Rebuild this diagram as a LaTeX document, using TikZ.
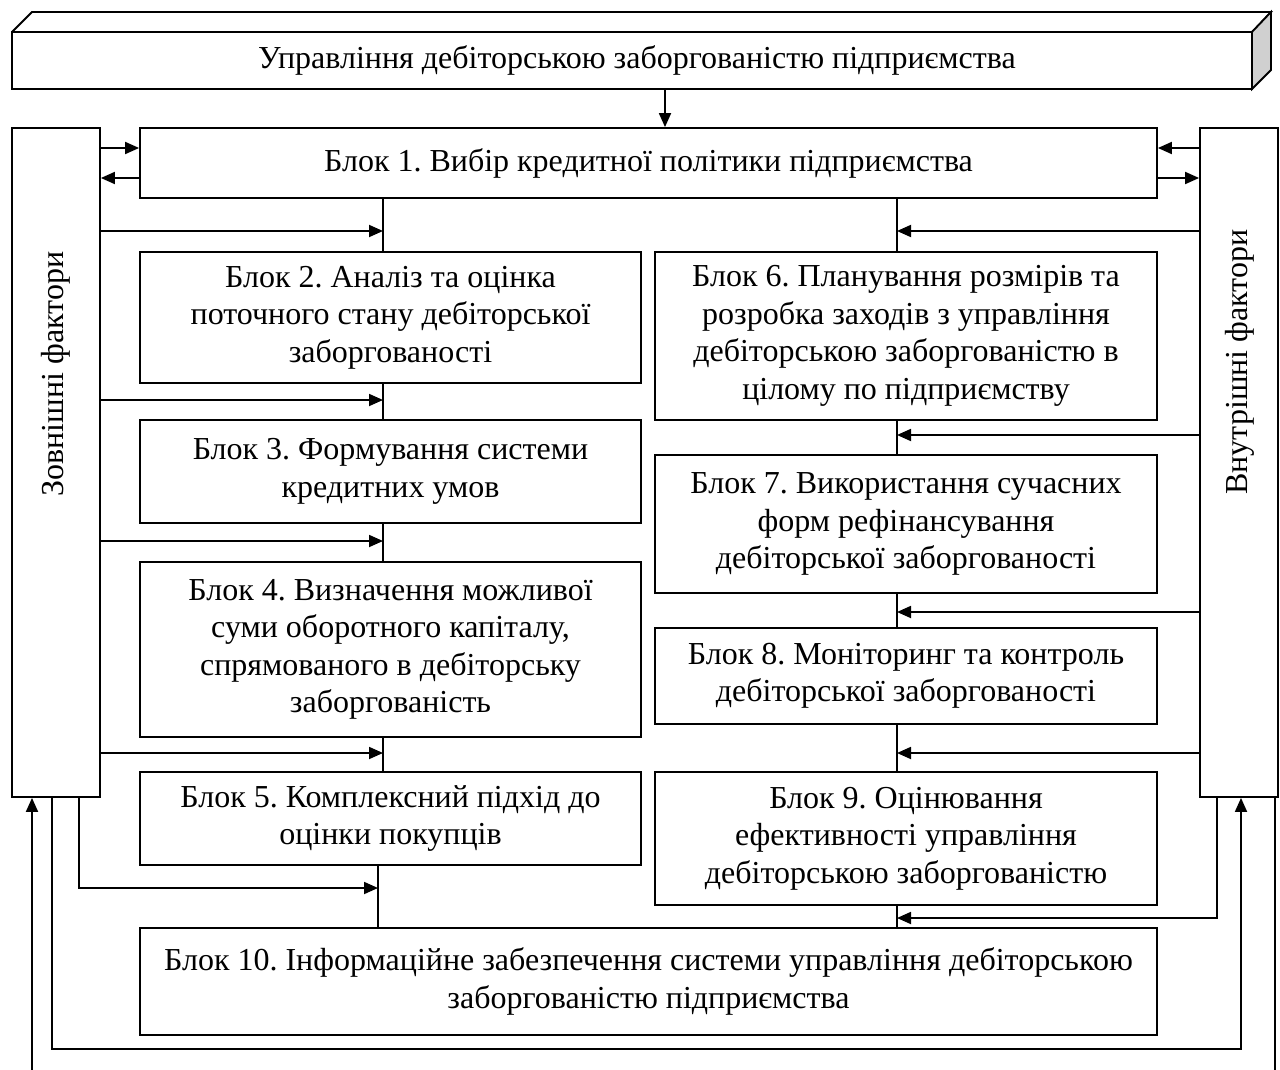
\documentclass[tikz,border=0pt]{standalone}
\usepackage{fontspec}
\setmainfont{Liberation Serif}
\usetikzlibrary{arrows.meta,calc}
\begin{document}
\frenchspacing
\begin{tikzpicture}[x=1pt,y=-1pt, line width=1.8pt,
  box/.style={draw, rectangle, inner sep=0pt, align=center, font=\fontsize{32}{37.5}\selectfont},
  lbl/.style={inner sep=0pt, font=\fontsize{32}{37.5}\selectfont},
  arr/.style={-{Triangle[length=14pt,width=12pt]}}]
\useasboundingbox (0,0) rectangle (1280,1070);
% 3D title bar
\fill[white] (12,32) -- (32,12) -- (1271,12) -- (1252,32) -- cycle;
\draw (12,32) -- (32,12) -- (1271,12) -- (1252,32);
\filldraw[fill={rgb,255:red,208;green,208;blue,208}] (1252,32) -- (1271,12) -- (1271,70) -- (1252,89) -- cycle;
\node[box, minimum width=1240pt, minimum height=57pt] (T) at (632,60.5) {\hspace*{10pt}Управління дебіторською заборгованістю підприємства};
% side boxes
\node[box, minimum width=88pt, minimum height=669pt] (L) at (56,462.5) {};
\node[box, minimum width=78pt, minimum height=669pt] (R) at (1239,462.5) {};
\node[lbl, rotate=90] (Lt) at (56,374) {Зовнішні фактори};
\node[lbl, rotate=90] (Rt) at (1240,362) {Внутрішні фактори};
% blocks
\node[box, minimum width=1017pt, minimum height=70pt] (b1) at (648.5,163) {Блок 1. Вибір кредитної політики підприємства};
\node[box, minimum width=501pt, minimum height=131pt] (b2) at (390.5,317.5) {Блок 2. Аналіз та оцінка\\поточного стану дебіторської\\заборгованості};
\node[box, minimum width=501pt, minimum height=103pt] (b3) at (390.5,471.5) {Блок 3. Формування системи\\кредитних умов};
\node[box, minimum width=501pt, minimum height=175pt] (b4) at (390.5,649.5) {Блок 4. Визначення можливої\\суми оборотного капіталу,\\спрямованого в дебіторську\\заборгованість};
\node[box, minimum width=501pt, minimum height=93pt] (b5) at (390.5,818.5) {Блок 5. Комплексний підхід до\\оцінки покупців};
\node[box, minimum width=502pt, minimum height=168pt] (b6) at (906,336) {Блок 6. Планування розмірів та\\розробка заходів з управління\\дебіторською заборгованістю в\\цілому по підприємству};
\node[box, minimum width=502pt, minimum height=138pt] (b7) at (906,524) {Блок 7. Використання сучасних\\форм рефінансування\\дебіторської заборгованості};
\node[box, minimum width=502pt, minimum height=96pt] (b8) at (906,676) {Блок 8. Моніторинг та контроль\\дебіторської заборгованості};
\node[box, minimum width=502pt, minimum height=133pt] (b9) at (906,838.5) {Блок 9. Оцінювання\\ефективності управління\\дебіторською заборгованістю};
\node[box, minimum width=1017pt, minimum height=107pt] (b10) at (648.5,981.5) {Блок 10. Інформаційне забезпечення системи управління дебіторською\\заборгованістю підприємства};
% top arrow
\draw[arr] (T.south -| 665,0) -- (b1.north -| 665,0);
% block 1 exchange
\draw[arr] (L.east |- 0,148) -- (b1.west |- 0,148);
\draw[arr] (b1.west |- 0,178) -- (L.east |- 0,178);
\draw[arr] (R.west |- 0,148) -- (b1.east |- 0,148);
\draw[arr] (b1.east |- 0,178) -- (R.west |- 0,178);
% vertical chains
\draw (b1.south -| 383,0) -- (b2.north -| 383,0);
\draw (b2.south -| 383,0) -- (b3.north -| 383,0);
\draw (b3.south -| 383,0) -- (b4.north -| 383,0);
\draw (b4.south -| 383,0) -- (b5.north -| 383,0);
\draw (b5.south -| 378,0) -- (b10.north -| 378,0);
\draw (b1.south -| 897,0) -- (b6.north -| 897,0);
\draw (b6.south -| 897,0) -- (b7.north -| 897,0);
\draw (b7.south -| 897,0) -- (b8.north -| 897,0);
\draw (b8.south -| 897,0) -- (b9.north -| 897,0);
\draw (b9.south -| 897,0) -- (b10.north -| 897,0);
% left inputs
\coordinate (jl1) at (383,231);
\coordinate (jl2) at (383,400);
\coordinate (jl3) at (383,541);
\coordinate (jl4) at (383,753);
\coordinate (jl5) at (378,888);
\draw[arr] (L.east |- jl1) -- (jl1);
\draw[arr] (L.east |- jl2) -- (jl2);
\draw[arr] (L.east |- jl3) -- (jl3);
\draw[arr] (L.east |- jl4) -- (jl4);
\draw[arr] (L.south -| 79,0) |- (jl5);
% right inputs
\coordinate (jr1) at (897,231);
\coordinate (jr2) at (897,435);
\coordinate (jr3) at (897,612);
\coordinate (jr4) at (897,753);
\coordinate (jr5) at (897,918);
\draw[arr] (R.west |- jr1) -- (jr1);
\draw[arr] (R.west |- jr2) -- (jr2);
\draw[arr] (R.west |- jr3) -- (jr3);
\draw[arr] (R.west |- jr4) -- (jr4);
\draw[arr] (R.south -| 1217,0) |- (jr5);
% feedback loops
\coordinate (c1) at (52,1049);
\draw[arr] (L.south -| c1) -- (c1) -| (R.south -| 1241,0);
\coordinate (in1) at (32,1070);
\draw[arr] (in1) -- (L.south -| in1);
\coordinate (out1) at (1275,1070);
\draw (R.south -| out1) -- (out1);
\end{tikzpicture}
\end{document}
